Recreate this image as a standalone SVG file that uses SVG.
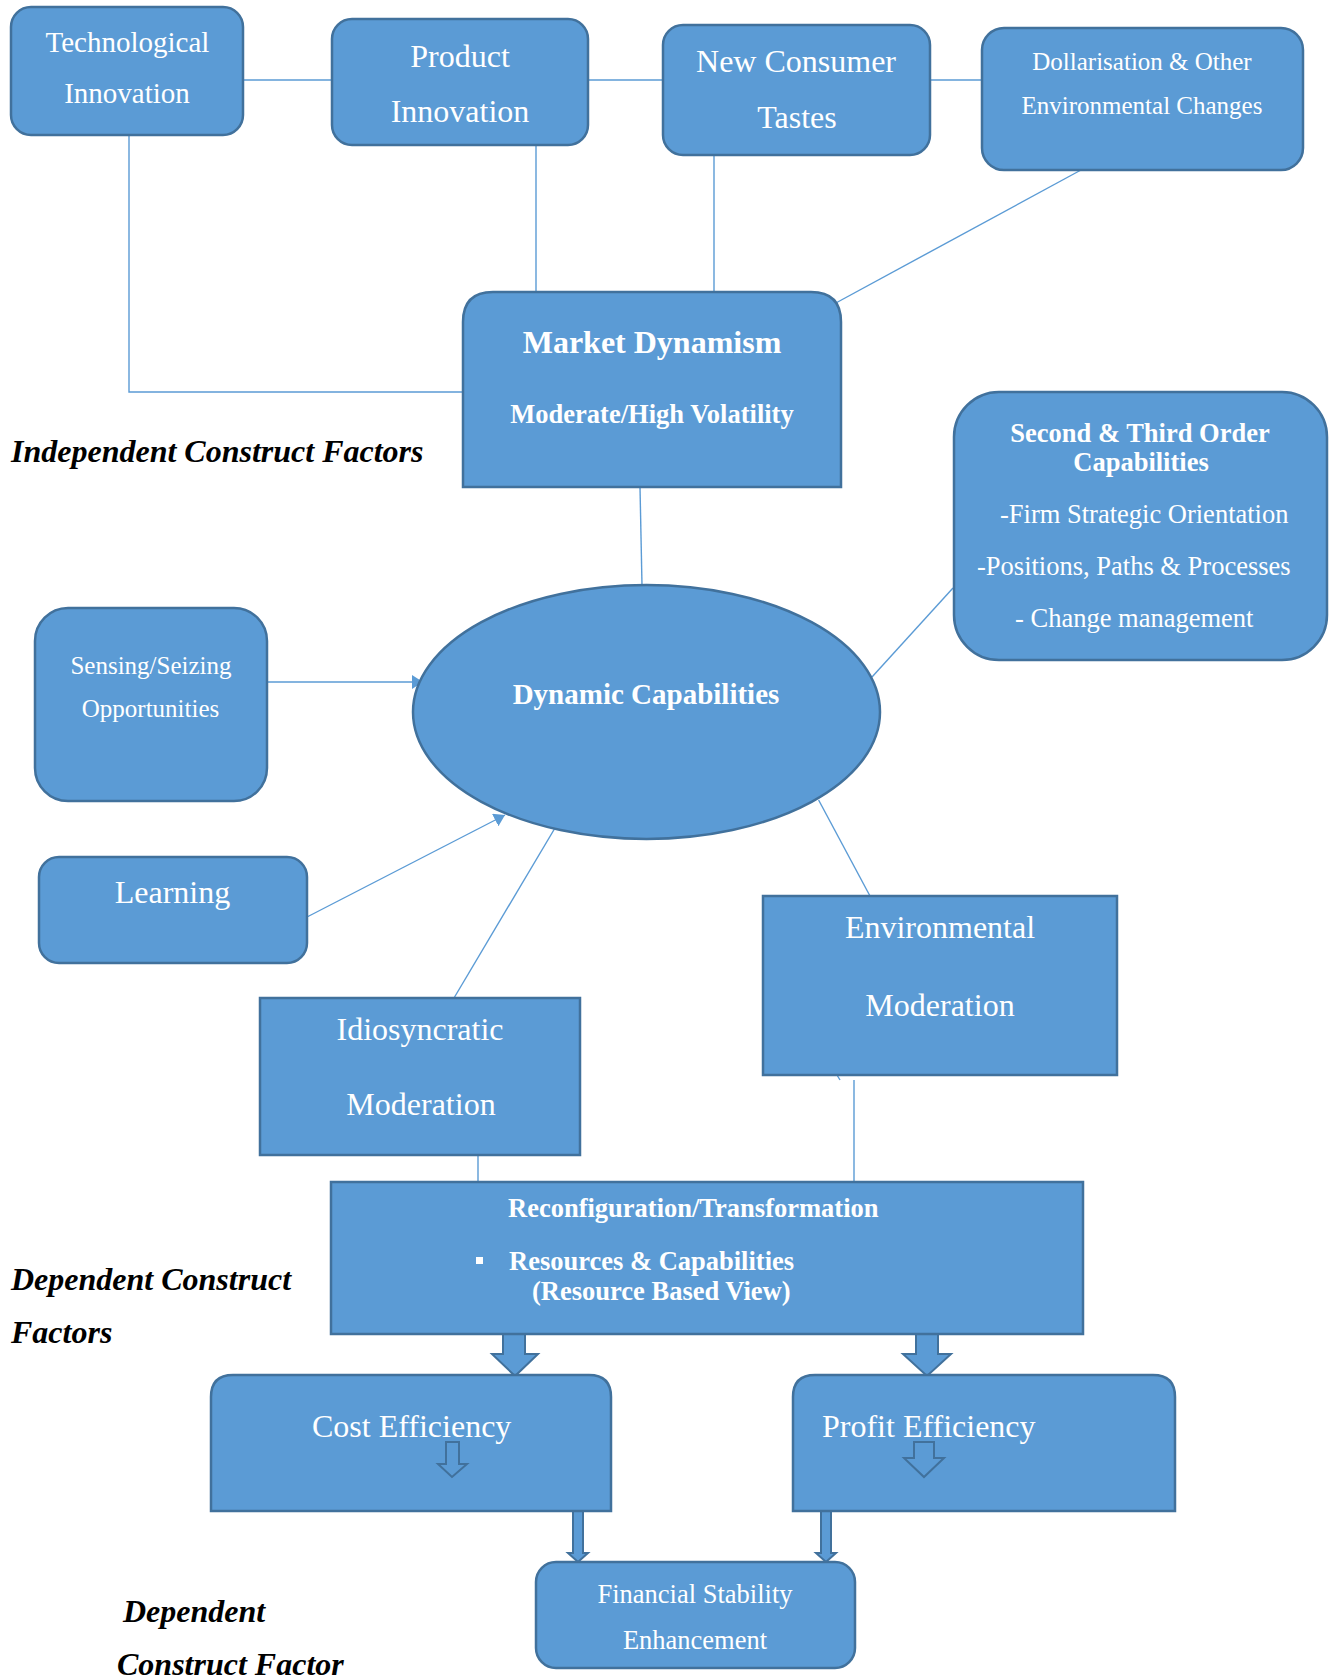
<svg xmlns="http://www.w3.org/2000/svg" width="1337" height="1679" viewBox="0 0 1337 1679">
<style>
.box{fill:#5B9BD5;stroke:#41719C;stroke-width:2.5}
.ln{fill:none;stroke:#5B9BD5;stroke-width:1.4}
.blk{fill:#5B9BD5;stroke:#41719C;stroke-width:2}
text{font-family:"Liberation Serif","Times New Roman",serif;fill:#FFFFFF}
.c{text-anchor:middle}
.b{font-weight:bold}
.lab{fill:#000000;font-weight:bold;font-style:italic;font-size:32px}
</style>
<defs>
<marker id="ah" markerUnits="userSpaceOnUse" markerWidth="12" markerHeight="14" refX="11" refY="7" orient="auto">
<path d="M0,0 L11,7 L0,14 Z" fill="#5B9BD5"/>
</marker>
</defs>
<rect width="1337" height="1679" fill="#FFFFFF"/>
<g id="connectors">
<line class="ln" x1="243" y1="80" x2="332" y2="80"/>
<line class="ln" x1="588" y1="80" x2="663" y2="80"/>
<line class="ln" x1="930" y1="80" x2="982" y2="80"/>
<polyline class="ln" points="129,135 129,392 463,392"/>
<line class="ln" x1="536" y1="145" x2="536" y2="292"/>
<line class="ln" x1="714" y1="155" x2="714" y2="292"/>
<line class="ln" x1="1081" y1="170" x2="834" y2="304"/>
<line class="ln" x1="640" y1="487" x2="642" y2="585"/>
<line class="ln" x1="953" y1="588" x2="872" y2="677"/>
<line class="ln" x1="267" y1="682" x2="423" y2="682" marker-end="url(#ah)"/>
<line class="ln" x1="307" y1="917" x2="505" y2="815" marker-end="url(#ah)"/>
<line class="ln" x1="555" y1="828" x2="454" y2="998"/>
<line class="ln" x1="818.6" y1="800" x2="870" y2="896"/>
<line class="ln" x1="837" y1="1075" x2="840" y2="1080"/>
<line class="ln" x1="854" y1="1080" x2="854" y2="1182"/>
<line class="ln" x1="478" y1="1155" x2="478" y2="1182"/>
<path class="blk" d="M503,1334 L525,1334 L525,1354 L538,1354 L515,1376 L492,1354 L503,1354 Z"/>
<path class="blk" d="M916,1334 L938,1334 L938,1354 L951,1354 L927,1376 L903,1354 L916,1354 Z"/>
<path class="blk" d="M573,1511 L583,1511 L583,1553 L588,1553 L578,1562 L568,1553 L573,1553 Z"/>
<path class="blk" d="M821,1511 L831,1511 L831,1553 L836,1553 L826,1562 L816,1553 L821,1553 Z"/>
</g>
<g id="tech">
<rect class="box" x="11" y="7" width="232" height="128" rx="20"/>
<text class="c" x="127.5" y="52" font-size="29">Technological</text>
<text class="c" x="127" y="103" font-size="29">Innovation</text>
</g>
<g id="product">
<rect class="box" x="332" y="19" width="256" height="126" rx="20"/>
<text class="c" x="460" y="67" font-size="32">Product</text>
<text class="c" x="460" y="122" font-size="32">Innovation</text>
</g>
<g id="consumer">
<rect class="box" x="663" y="25" width="267" height="130" rx="20"/>
<text class="c" x="796" y="72" font-size="32">New Consumer</text>
<text class="c" x="797" y="128" font-size="32">Tastes</text>
</g>
<g id="dollarisation">
<rect class="box" x="982" y="28" width="321" height="142" rx="22"/>
<text class="c" x="1142" y="70" font-size="25">Dollarisation &amp; Other</text>
<text class="c" x="1142" y="114" font-size="25">Environmental Changes</text>
</g>
<g id="market">
<path class="box" d="M463,487 L463,322 Q463,292 493,292 L811,292 Q841,292 841,322 L841,487 Z"/>
<text class="c b" x="652" y="353" font-size="32">Market Dynamism</text>
<text class="c b" x="652" y="423" font-size="26.5">Moderate/High Volatility</text>
</g>
<g id="label-independent">
<text class="lab" x="11" y="462">Independent Construct Factors</text>
</g>
<g id="second-third">
<rect class="box" x="954" y="392" width="373" height="268" rx="45"/>
<text class="c b" x="1140" y="442" font-size="26.5">Second &amp; Third Order</text>
<text class="c b" x="1141" y="471" font-size="26.5">Capabilities</text>
<text x="1000" y="523" font-size="26.5">-Firm Strategic Orientation</text>
<text x="977" y="575" font-size="26.5">-Positions, Paths &amp; Processes</text>
<text x="1015" y="627" font-size="26.5">- Change management</text>
</g>
<g id="dynamic">
<ellipse class="box" cx="646.5" cy="712" rx="233.5" ry="127"/>
<text class="c b" x="646" y="704" font-size="29">Dynamic Capabilities</text>
</g>
<g id="sensing">
<rect class="box" x="35" y="608" width="232" height="193" rx="33"/>
<text class="c" x="151" y="674" font-size="25">Sensing/Seizing</text>
<text class="c" x="150.5" y="717" font-size="25">Opportunities</text>
</g>
<g id="learning">
<rect class="box" x="39" y="857" width="268" height="106" rx="20"/>
<text class="c" x="172.5" y="903" font-size="32">Learning</text>
</g>
<g id="idiosyncratic">
<rect class="box" x="260" y="998" width="320" height="157"/>
<text class="c" x="420" y="1040" font-size="32">Idiosyncratic</text>
<text class="c" x="421" y="1115" font-size="32">Moderation</text>
</g>
<g id="environmental">
<rect class="box" x="763" y="896" width="354" height="179"/>
<text class="c" x="940" y="938" font-size="32">Environmental</text>
<text class="c" x="940" y="1016" font-size="32">Moderation</text>
</g>
<g id="reconfiguration">
<rect class="box" x="331" y="1182" width="752" height="152"/>
<text class="b" x="508" y="1217" font-size="26.5">Reconfiguration/Transformation</text>
<rect x="476" y="1257" width="7" height="7" fill="#FFFFFF"/>
<text class="b" x="509" y="1270" font-size="26.5">Resources &amp; Capabilities</text>
<text class="b" x="532" y="1300" font-size="26.5">(Resource Based View)</text>
</g>
<g id="label-dependent">
<text class="lab" x="11" y="1290">Dependent Construct</text>
<text class="lab" x="11" y="1343">Factors</text>
</g>
<g id="cost">
<path class="box" d="M211,1511 L211,1397 Q211,1375 233,1375 L589,1375 Q611,1375 611,1397 L611,1511 Z"/>
<text x="312" y="1437" font-size="32">Cost Efficiency</text>
<path class="blk" d="M446,1442 L459,1442 L459,1464 L467,1464 L452,1477 L438,1464 L446,1464 Z"/>
</g>
<g id="profit">
<path class="box" d="M793,1511 L793,1397 Q793,1375 815,1375 L1153,1375 Q1175,1375 1175,1397 L1175,1511 Z"/>
<text x="822" y="1437" font-size="32">Profit Efficiency</text>
<path class="blk" d="M914,1442 L934,1442 L934,1458 L944,1458 L924,1477 L904,1458 L914,1458 Z"/>
</g>
<g id="financial">
<rect class="box" x="536" y="1562" width="319" height="106" rx="20"/>
<text class="c" x="695" y="1603" font-size="26.5">Financial Stability</text>
<text class="c" x="695" y="1649" font-size="26.5">Enhancement</text>
</g>
<g id="label-dependent-factor">
<text class="lab" x="123" y="1622">Dependent</text>
<text class="lab" x="117" y="1675">Construct Factor</text>
</g>
</svg>
